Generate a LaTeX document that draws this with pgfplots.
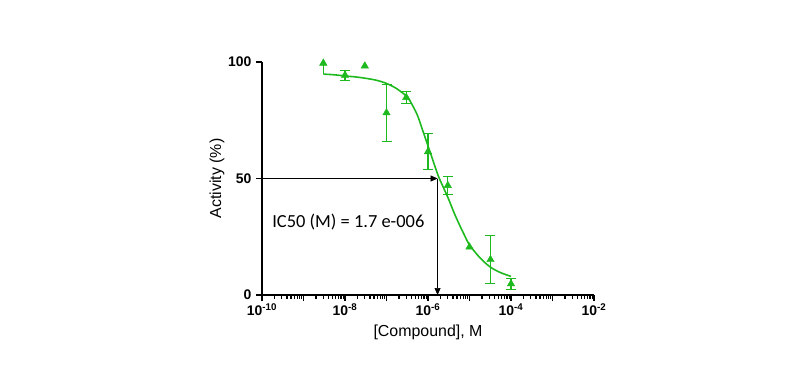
\documentclass[border=0pt]{standalone}
\usepackage{pgfplots}
\pgfplotsset{compat=1.18}
\usepackage{fontspec}
\setmainfont{Liberation Sans}
\newfontfamily\calfont{Carlito}
\usetikzlibrary{arrows.meta}
\definecolor{cgreen}{RGB}{30,185,30}
\begin{document}
\begin{tikzpicture}[x=1bp,y=1bp]
\path[use as bounding box] (0,0) rectangle (800,381);
\begin{axis}[
  at={(262bp,86bp)}, anchor=south west,
  scale only axis, width=332bp, height=233bp,
  xmode=log, xmin=1e-10, xmax=1e-2, ymin=0, ymax=100,
  axis lines*=left,
  axis line style={line width=1.6pt},
  tick align=outside,
  tick style={black, line width=1.1pt},
  major tick length=6bp, minor tick length=3.5bp,
  xtick={1e-10,1e-9,1e-8,1e-7,1e-6,1e-5,1e-4,1e-3,1e-2},
  xticklabels={\textbf{10\textsuperscript{-10}},,\textbf{10\textsuperscript{-8}},,\textbf{10\textsuperscript{-6}},,\textbf{10\textsuperscript{-4}},,\textbf{10\textsuperscript{-2}}},
  minor xtick={2e-10,3e-10,4e-10,5e-10,6e-10,7e-10,8e-10,9e-10,
               2e-9,3e-9,4e-9,5e-9,6e-9,7e-9,8e-9,9e-9,
               2e-8,3e-8,4e-8,5e-8,6e-8,7e-8,8e-8,9e-8,
               2e-7,3e-7,4e-7,5e-7,6e-7,7e-7,8e-7,9e-7,
               2e-6,3e-6,4e-6,5e-6,6e-6,7e-6,8e-6,9e-6,
               2e-5,3e-5,4e-5,5e-5,6e-5,7e-5,8e-5,9e-5,
               2e-4,3e-4,4e-4,5e-4,6e-4,7e-4,8e-4,9e-4,
               2e-3,3e-3,4e-3,5e-3,6e-3,7e-3,8e-3,9e-3},
  ytick={0,50,100},
  yticklabels={\textbf{0},\textbf{50},\textbf{100}},
  ticklabel style={font=\fontsize{14}{16}\selectfont},
  xticklabel style={yshift=1bp},
  yticklabel style={xshift=-1bp},
  xlabel={[Compound], M},
  ylabel={Activity (\%)},
  label style={font=\fontsize{16}{18}\selectfont},
  xlabel style={yshift=-2bp},
  ylabel style={yshift=-3bp},
  clip=false,
]
% fitted curve
\addplot[cgreen, line width=1.6pt, smooth, no marks] coordinates {
(3.0e-9,94.8) (5.6e-9,94.5) (1e-8,94.0) (1.78e-8,93.6) (3.16e-8,93.0) (5.6e-8,92.2)
(1e-7,90.8) (1.78e-7,88.5) (3.16e-7,85.0) (4.2e-7,81.5) (5.6e-7,77.0) (7.5e-7,70.5)
(1e-6,64.0) (1.33e-6,57.5) (1.78e-6,51.0) (2.37e-6,46.0) (3.16e-6,41.0) (4.2e-6,35.5)
(5.6e-6,30.5) (7.5e-6,25.8) (1e-5,21.5) (1.78e-5,16.0) (3.16e-5,12.0) (5.6e-5,9.6) (1e-4,8.0)
};
% stem below the first point
\addplot[cgreen, line width=1.2pt, no marks] coordinates {(3e-9,99.5) (3e-9,94.8)};
% data with error bars
\addplot[cgreen, only marks, mark=triangle*, mark size=4.3bp,
  error bars/.cd, y dir=both, y explicit,
  error bar style={line width=1.2pt, cgreen},
  error mark options={rotate=90, mark size=5bp, line width=1.2pt, cgreen}]
  coordinates {
(1e-8,94.3) +- (0,2.1)
(1e-7,78.2) +- (0,12.3)
(3e-7,84.8) +- (0,2.6)
(1e-6,61.5) +- (0,7.7)
(3e-6,47.0) +- (0,3.9)
(3.2e-5,15.2) +- (0,10.3)
(1e-4,4.8) +- (0,2.4)
};
% data without visible error bars
\addplot[cgreen, only marks, mark=triangle*, mark size=4.3bp] coordinates {
(3e-9,99.5) (3e-8,98.3) (1e-5,20.6)
};
% IC50 arrows
\addplot[black, line width=0.7pt, -{Triangle[length=7bp,width=6bp]}] coordinates {(1e-10,50) (1.7e-6,50)};
\addplot[black, line width=0.7pt, -{Triangle[length=7bp,width=6bp]}] coordinates {(1.7e-6,50) (1.7e-6,0)};
\node[font=\calfont\fontsize{18.5}{21}\selectfont, anchor=west, inner sep=0pt] at (axis cs:1.75e-10,31.3) {IC50 (M) = 1.7 e-006};
\end{axis}
\end{tikzpicture}
\end{document}
